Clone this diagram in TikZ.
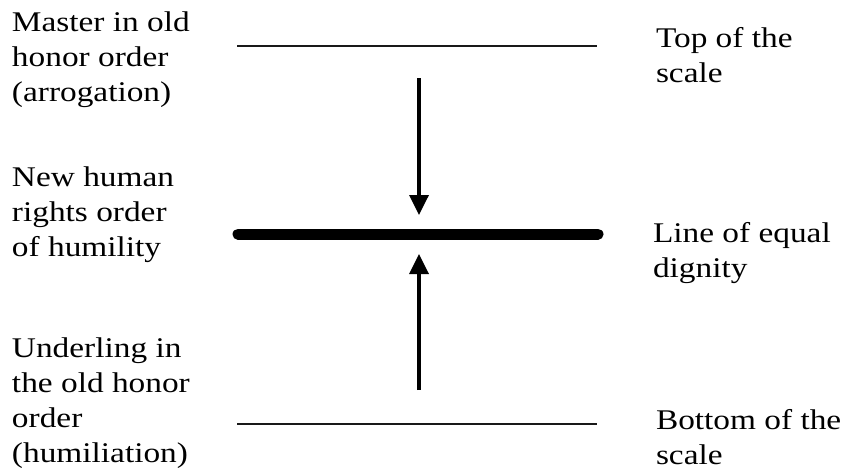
\documentclass[tikz,border=0pt]{standalone}
\usepackage{fontspec}
\setmainfont{Liberation Serif}
\usetikzlibrary{arrows.meta}
\tikzset{
  lbl/.style={anchor=base west, inner sep=0pt, outer sep=0pt, xscale=1.17,
    font=\fontsize{28.5}{35}\selectfont, text=black},
  thin line/.style={line width=1.6pt, black!90},
  thick line/.style={line width=11pt, line cap=round, black},
  arr/.style={line width=3.5pt, -{Triangle[width=19pt,length=20pt]}, black}
}
\newcommand{\lines}[1]{\vtop{\baselineskip=35pt #1}}
\begin{document}
\begin{tikzpicture}[x=1pt,y=-1pt]
\useasboundingbox (0,0) rectangle (851,472);
% left labels
\node[lbl] (master) at (12,31) {\lines{\hbox{Master in old}\hbox{honor order}\hbox{(arrogation)}}};
\node[lbl] (newh) at (12,186) {\lines{\hbox{New human}\hbox{rights order}\hbox{of humility}}};
\node[lbl] (under) at (12,357) {\lines{\hbox{Underling in}\hbox{the old honor}\hbox{order}\hbox{(humiliation)}}};
% right labels
\node[lbl] (top) at (656,47) {\lines{\hbox{Top of the}\hbox{scale}}};
\node[lbl] (equal) at (653,242) {\lines{\hbox{Line of equal}\hbox{dignity}}};
\node[lbl] (bottom) at (656,429) {\lines{\hbox{Bottom of the}\hbox{scale}}};
% lines
\coordinate (tl) at (237,46);
\coordinate (tr) at (597,46);
\coordinate (ml) at (238,234);
\coordinate (mr) at (598,234);
\coordinate (bl) at (237,424);
\coordinate (br) at (597,424);
\draw[thin line] (tl) -- (tr);
\draw[thick line] (ml) -- (mr);
\draw[thin line] (bl) -- (br);
% arrows
\coordinate (a1s) at (419,78);
\coordinate (a1e) at (419,215);
\coordinate (a2s) at (419,390);
\coordinate (a2e) at (419,254);
\draw[arr] (a1s) -- (a1e);
\draw[arr] (a2s) -- (a2e);
\end{tikzpicture}
\end{document}
